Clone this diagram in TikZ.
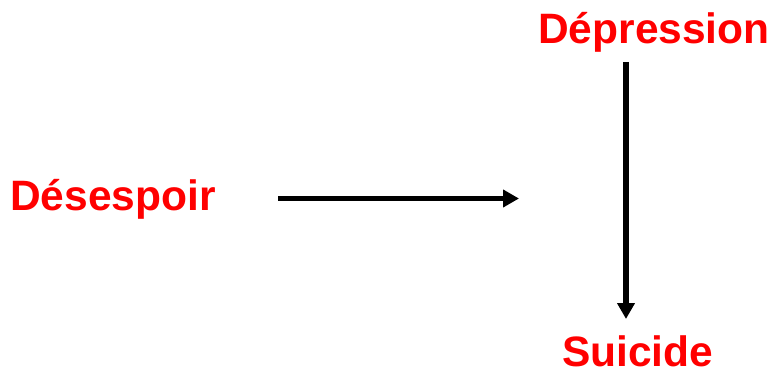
\documentclass[tikz,border=0pt]{standalone}
\usepackage{fontspec}
\setmainfont{Liberation Sans}
\usetikzlibrary{arrows.meta}
\definecolor{lblred}{RGB}{255,0,0}
\begin{document}
\begin{tikzpicture}[x=1pt,y=-1pt,
  lbl/.style={text=lblred,font=\fontsize{42.5}{48}\selectfont\bfseries,inner sep=0pt,anchor=base west},
  conn/.style={line width=5.5pt,-{Triangle[length=16pt,width=17pt]}}]
\useasboundingbox (0,0) rectangle (773,371);
\node[lbl] (des) at (10,211) {Désespoir};
\node[lbl] (dep) at (538,44) {Dépression};
\node[lbl] (sui) at (562,366) {Suicide};
\coordinate (h1) at (278,198.5);
\coordinate (h2) at (519,198.5);
\coordinate (v1) at (626,62);
\coordinate (v2) at (626,319);
\draw[conn] (h1) -- (h2);
\draw[conn] (v1) -- (v2);
\end{tikzpicture}
\end{document}
